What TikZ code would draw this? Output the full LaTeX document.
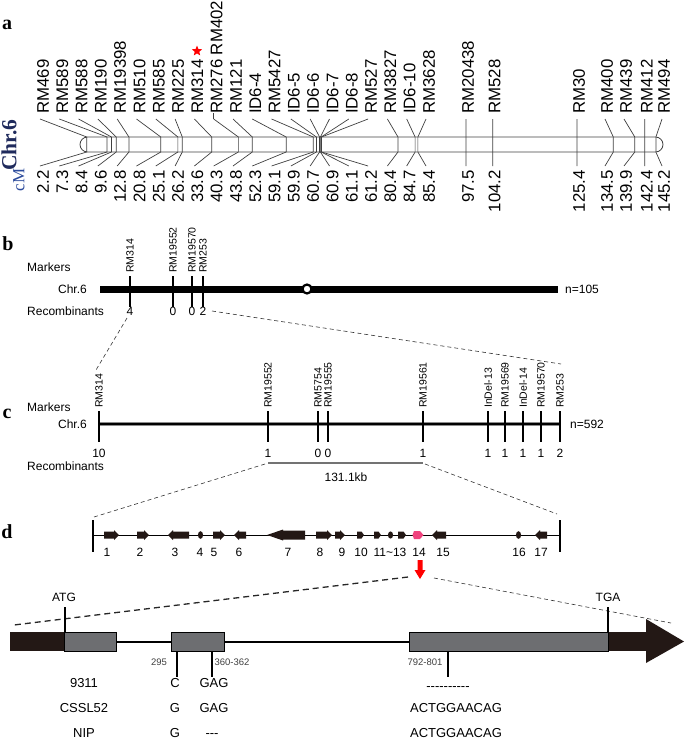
\documentclass[tikz,border=0pt]{standalone}
\usepackage{fontspec}
\setmainfont{Liberation Sans}
\newfontfamily\tnr{Liberation Serif}
\usetikzlibrary{shapes.geometric}
\definecolor{gene}{HTML}{231815}
\definecolor{exon}{HTML}{6D6E71}
\definecolor{navy}{HTML}{1F2A5C}
\definecolor{cmblue}{HTML}{2B4A9B}
\definecolor{pinkg}{HTML}{F0447E}
\newcommand\geneR[3]{\fill[#3] (#1,531.5) -- ({#2-5},531.5) -- ({#2-5},530) -- (#2,535) -- ({#2-5},540) -- ({#2-5},538.5) -- (#1,538.5) -- cycle;}
\newcommand\geneL[3]{\fill[#3] (#2,531.5) -- ({#1+5},531.5) -- ({#1+5},530) -- (#1,535) -- ({#1+5},540) -- ({#1+5},538.5) -- (#2,538.5) -- cycle;}
\newcommand\geneS[3]{\fill[#3] (#1,531.5) -- ({#2-2.5},531.5) -- (#2,535) -- ({#2-2.5},538.5) -- (#1,538.5) -- cycle;}
\begin{document}
\begin{tikzpicture}[x=1pt,y=-1pt,
  panel/.style={font=\tnr\bfseries\fontsize{20}{20}\selectfont, inner sep=0pt},
  mk/.style={rotate=90, anchor=west, inner sep=0pt, font=\fontsize{16.8}{16.8}\selectfont},
  cmv/.style={rotate=90, anchor=east, inner sep=0pt, font=\fontsize{16.8}{16.8}\selectfont},
  conn/.style={draw=black!75, line width=0.7pt},
  tube/.style={draw=black!75, line width=0.8pt},
  lbl/.style={font=\fontsize{12}{12}\selectfont, inner sep=0pt},
  smk/.style={rotate=90, anchor=west, inner sep=0pt, font=\fontsize{10.5}{10.5}\selectfont},
  dsh/.style={draw=black!80, line width=0.6pt, dash pattern=on 4pt off 3pt},
  mtick/.style={line width=1.4pt},
  glbl/.style={font=\fontsize{12}{12}\selectfont, inner sep=0pt},
  row/.style={font=\fontsize{13}{13}\selectfont, inner sep=0pt, anchor=base},
  posnum/.style={font=\fontsize{9.5}{9.5}\selectfont, inner sep=0pt, text=black!75},
  exonbox/.style={fill=exon, draw=black, line width=1pt}
]
\useasboundingbox (0,0) rectangle (685,742);

% ---------------- panel a ----------------
\node[panel] (pa) at (7,25) {a};
\node[rotate=90, inner sep=0pt, text=navy, font=\tnr\bfseries\fontsize{21.5}{21.5}\selectfont] (chra) at (9,145) {Chr.6};
\node[rotate=90, inner sep=0pt, text=cmblue, font=\tnr\fontsize{17}{17}\selectfont] (cma) at (19,180) {cM};

\foreach \lab/\lx/\txt/\cmval [count=\i] in {
 RM469/40/43/2.2, RM589/59.3/62.3/7.3, RM588/78.6/81.6/8.4, RM190/97.9/100.9/9.6,
 RM19398/117.2/120.2/12.8, RM510/136.5/139.5/20.8, RM585/155.8/158.8/25.1,
 RM225/175.1/178.1/26.2, RM314/194.4/197.4/33.6, RM276 RM402/213.7/216.7/40.3,
 RM121/233/236/43.8, ID6-4/252.3/255.3/52.3, RM5427/271.6/274.6/59.1,
 ID6-5/290.9/293.9/59.9, ID6-6/310.2/313.2/60.7, ID6-7/329.5/332.5/60.9,
 ID6-8/348.8/351.8/61.1, RM527/368.1/371.1/61.2, RM3827/387.4/390.4/80.4,
 ID6-10/406.7/409.7/84.7, RM3628/426/429/85.4, RM20438/466/468/97.5,
 RM528/492.7/494.7/104.2, RM30/577/579/125.4, RM400/605/607/134.5,
 RM439/624/626/139.9, RM412/644.8/646.8/142.4, RM494/662/664/145.2}{
  \pgfmathsetmacro\tx{78+3.98*\cmval}
  \draw[conn] (\lx,119) -- (\tx,137) -- (\tx,152) -- (\lx,166);
  \node[mk] (m\i) at (\txt,114) {\lab};
  \node[cmv] (v\i) at (\txt,170) {\cmval};
}
\draw[conn] (213.7,113) -- (213.7,119);
\draw[tube, rounded corners=7.5pt] (80,137) rectangle (663,152);
\node[star, star points=5, star point ratio=2.3, fill=red, inner sep=0pt, minimum size=11pt] (star) at (197,51) {};

% ---------------- panel b ----------------
\node[panel] (pb) at (8,244) {b};
\node[lbl, anchor=west] (bmk) at (27,267) {Markers};
\node[lbl, anchor=east] (bchr) at (87,289) {Chr.6};
\node[lbl, anchor=west] (brec) at (27,311) {Recombinants};
\draw[line width=7pt] (100,289) -- (558,289);
\node[circle, draw, fill=white, line width=2.2pt, minimum size=9pt, inner sep=0pt] (cen) at (307,289) {};
\foreach \x/\lab/\n [count=\i] in {130/RM314/4, 173/RM19552/0, 192/RM19570/0, 203/RM253/2}{
  \draw[mtick] (\x,276) -- (\x,307);
  \node[smk] (bm\i) at (\x,273) {\lab};
  \node[lbl] (bn\i) at (\x,311) {\n};
}
\node[lbl, anchor=west] (bn) at (565,289) {n=105};

% dashed b -> c
\coordinate (bc1) at (127,318);
\coordinate (bc2) at (96,370);
\coordinate (bc3) at (212,311);
\coordinate (bc4) at (561,364);
\draw[dsh] (bc1) -- (bc2);
\draw[dsh] (bc3) -- (bc4);

% ---------------- panel c ----------------
\node[panel] (pc) at (7,414) {c};
\node[lbl, anchor=west] (cmk) at (27,407) {Markers};
\node[lbl, anchor=east] (cchr) at (87,424) {Chr.6};
\node[lbl, anchor=west] (crec) at (27,466) {Recombinants};
\draw[line width=4.4pt, black!45] (99,424) -- (560,424);
\draw[line width=2.6pt] (99,424) -- (560,424);
\foreach \x/\lab/\n [count=\i] in {99/RM314/10, 268/RM19552/1, 318/RM5754/0, 328/RM19555/0,
  423/RM19561/1, 488/InDel-13/1, 505/RM19569/1, 523/InDel-14/1, 541/RM19570/1, 560/RM253/2}{
  \draw[mtick] (\x,411) -- (\x,442);
  \node[smk] (cm\i) at (\x,408) {\lab};
  \node[lbl] (cn\i) at (\x,453) {\n};
}
\node[lbl, anchor=west] (cnn) at (570,424) {n=592};
\coordinate (sb1) at (268,463);
\coordinate (sb2) at (423,463);
\draw[black!55, line width=1.2pt] (sb1) -- (sb2);
\node[lbl] (kb) at (346,477) {131.1kb};

% dashed c -> d
\coordinate (cd1) at (265,464);
\coordinate (cd2) at (94,517);
\coordinate (cd3) at (425,464);
\coordinate (cd4) at (557,514);
\draw[dsh] (cd1) -- (cd2);
\draw[dsh] (cd3) -- (cd4);

% ---------------- panel d ----------------
\node[panel] (pd) at (7,532) {d};
\draw[line width=1.2pt] (93,520) -- (93,552);
\draw[line width=1.2pt] (560,520) -- (560,552);
\draw[line width=1pt] (93,535) -- (560,535);
\geneR{104}{119}{gene}
\geneR{137}{149}{gene}
\geneL{168}{189}{gene}
\fill[gene] (200.5,535) ellipse (2.6 and 3.8);
\geneR{213}{225}{gene}
\geneL{234}{246}{gene}
\fill[gene] (305,530.5) -- (283,530.5) -- (283,529.5) -- (267,535) -- (283,540.5) -- (283,539.5) -- (305,539.5) -- cycle;
\geneR{316}{332}{gene}
\geneR{335}{345}{gene}
\geneS{357}{364}{gene}
\geneS{374}{381}{gene}
\fill[gene] (390.5,535) ellipse (2.6 and 3.6);
\geneS{398}{406}{gene}
\fill[pinkg] (414,531) -- (420,531) -- (423.5,535) -- (420,539) -- (414,539) -- (412.5,535) -- cycle;
\geneL{432}{446}{gene}
\fill[gene] (518.5,535) ellipse (2.6 and 3.8);
\geneL{535}{547}{gene}
\foreach \x/\n [count=\i] in {107/1, 140/2, 175/3, 200/4, 214/5, 239/6, 288/7, 320/8, 342/9, 361/10, 390/11\textasciitilde13, 419/14, 443/15, 519/16, 541/17}{
  \node[glbl] (g\i) at (\x,552) {\n};
}
% red arrow
\fill[red] (417.5,560) -- (422.5,560) -- (422.5,570) -- (425.5,570) -- (420,579) -- (414.5,570) -- (417.5,570) -- cycle;
\coordinate (ra1) at (408,577);
\coordinate (ra2) at (14,625);
\coordinate (ra3) at (434,578);
\coordinate (ra4) at (671,623);
\draw[black!85, line width=1.3pt, dash pattern=on 6pt off 4pt] (ra1) -- (ra2);
\draw[dsh] (ra3) -- (ra4);

% gene structure
\fill[gene] (10,632) rectangle (64,651);
\draw[line width=2pt] (116,641.5) -- (171,641.5);
\draw[line width=2pt] (224,641.5) -- (409,641.5);
\draw[exonbox] (64,632) rectangle (116,651);
\draw[exonbox] (171,632) rectangle (224,651);
\fill[gene] (608,632) rectangle (647,651);
\fill[gene] (646,619) -- (684,641.5) -- (646,663) -- cycle;
\draw[exonbox] (409,632) rectangle (608,651);
\node[lbl] (atg) at (64,597) {ATG};
\node[lbl] (tga) at (608,597) {TGA};
\draw[line width=1.2pt] (65,607) -- (65,632);
\draw[line width=1.2pt] (608,607) -- (608,632);
\node[posnum] (p295) at (159,662) {295};
\node[posnum] (p360) at (232,662) {360-362};
\node[posnum] (p792) at (425,662) {792-801};
\draw[line width=1.2pt] (177,651) -- (177,677);
\draw[line width=1.2pt] (212,651) -- (212,677);
\draw[line width=1.2pt] (448,651) -- (448,677);

\node[row] (r1) at (84,687) {9311};
\node[row] (r2) at (84,712) {CSSL52};
\node[row] (r3) at (84,737) {NIP};
\node[row] (r1a) at (175,687) {C};
\node[row] (r2a) at (175,712) {G};
\node[row] (r3a) at (175,737) {G};
\node[row] (r1b) at (214,687) {GAG};
\node[row] (r2b) at (214,712) {GAG};
\node[row] (r3b) at (212,737) {-{}-{}-};
\node[row] (r1c) at (448,690) {-{}-{}-{}-{}-{}-{}-{}-{}-{}-};
\node[row] (r2c) at (456,712) {ACTGGAACAG};
\node[row] (r3c) at (456,737) {ACTGGAACAG};
\end{tikzpicture}
\end{document}
